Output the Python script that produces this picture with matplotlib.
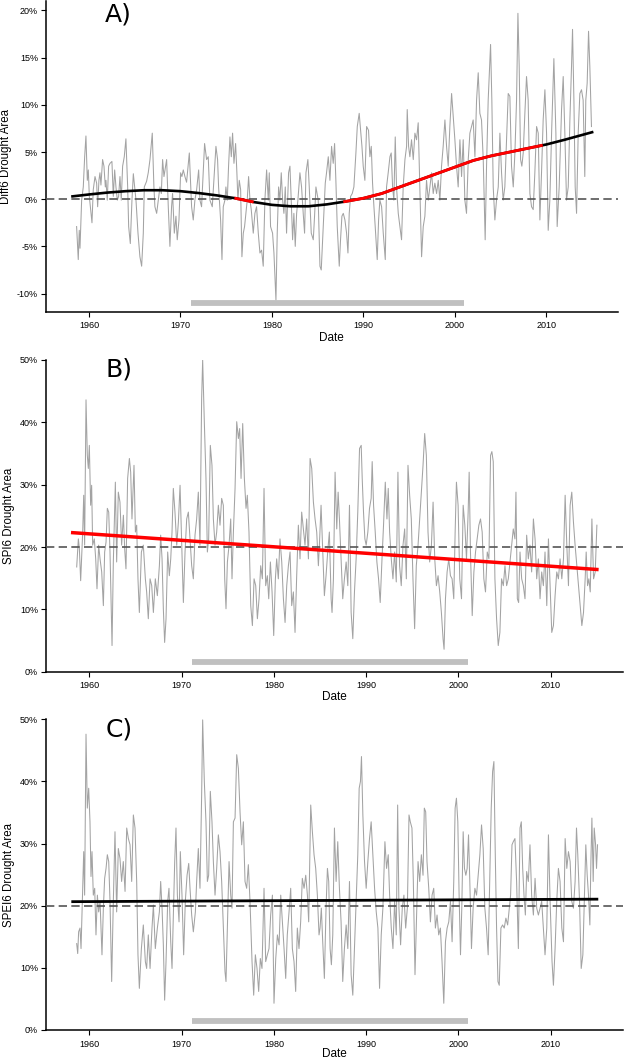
import numpy as np
import matplotlib
matplotlib.use("Agg")
import matplotlib.pyplot as plt

##############################################################################
# data (decimal year, % of area)

diff6_years = [
    1958.65, 1958.83, 1958.94, 1959.02, 1959.20, 1959.38, 1959.53, 1959.67, 1959.82, 1959.93,
    1960.04, 1960.22, 1960.33, 1960.47, 1960.66, 1960.84, 1960.95, 1961.09, 1961.20, 1961.31,
    1961.49, 1961.64, 1961.79, 1961.86, 1962.00, 1962.15, 1962.30, 1962.51, 1962.66, 1962.81,
    1962.95, 1963.10, 1963.24, 1963.39, 1963.53, 1963.68, 1963.86, 1964.04, 1964.23, 1964.34,
    1964.52, 1964.70, 1964.85, 1964.99, 1965.14, 1965.36, 1965.57, 1965.76, 1965.94, 1966.05,
    1966.30, 1966.48, 1966.67, 1966.92, 1967.10, 1967.21, 1967.40, 1967.58, 1967.76, 1967.91,
    1968.05, 1968.20, 1968.49, 1968.67, 1968.85, 1969.03, 1969.14, 1969.33, 1969.51, 1969.65,
    1969.84, 1970.02, 1970.16, 1970.31, 1970.49, 1970.67, 1970.97, 1971.22, 1971.40, 1971.58,
    1971.77, 1971.99, 1972.13, 1972.31, 1972.64, 1972.86, 1973.04, 1973.22, 1973.48, 1973.66,
    1973.88, 1974.06, 1974.17, 1974.39, 1974.54, 1974.68, 1974.86, 1974.97, 1975.12, 1975.26,
    1975.41, 1975.56, 1975.70, 1975.85, 1976.03, 1976.17, 1976.28, 1976.43, 1976.58, 1976.72,
    1976.87, 1977.01, 1977.16, 1977.30, 1977.45, 1977.60, 1977.74, 1977.96, 1978.14, 1978.32,
    1978.51, 1978.69, 1978.87, 1979.05, 1979.23, 1979.42, 1979.60, 1979.71, 1979.85, 1980.07,
    1980.22, 1980.44, 1980.58, 1980.73, 1980.87, 1981.02, 1981.17, 1981.31, 1981.46, 1981.60,
    1981.82, 1981.97, 1982.11, 1982.26, 1982.40, 1982.55, 1982.70, 1982.84, 1983.06, 1983.24,
    1983.42, 1983.57, 1983.72, 1983.93, 1984.08, 1984.30, 1984.52, 1984.66, 1984.81, 1985.06,
    1985.25, 1985.39, 1985.54, 1985.68, 1985.83, 1985.97, 1986.16, 1986.34, 1986.52, 1986.70,
    1986.85, 1986.99, 1987.14, 1987.36, 1987.50, 1987.65, 1987.80, 1987.98, 1988.16, 1988.31,
    1988.45, 1988.60, 1988.78, 1988.96, 1989.18, 1989.33, 1989.54, 1989.69, 1989.84, 1989.98,
    1990.16, 1990.35, 1990.56, 1990.71, 1990.86, 1991.00, 1991.15, 1991.29, 1991.51, 1991.66,
    1991.80, 1991.99, 1992.17, 1992.39, 1992.53, 1992.71, 1992.90, 1993.04, 1993.19, 1993.33,
    1993.48, 1993.62, 1993.81, 1993.99, 1994.17, 1994.35, 1994.54, 1994.72, 1994.79, 1994.94,
    1995.08, 1995.26, 1995.45, 1995.63, 1995.81, 1995.99, 1996.17, 1996.36, 1996.54, 1996.72,
    1996.90, 1997.09, 1997.27, 1997.45, 1997.63, 1997.81, 1998.00, 1998.18, 1998.36, 1998.54,
    1998.72, 1998.91, 1999.09, 1999.27, 1999.45, 1999.64, 1999.82, 2000.00, 2000.18, 2000.36,
    2000.55, 2000.73, 2000.91, 2001.09, 2001.27, 2001.46, 2001.64, 2001.82, 2002.00, 2002.19,
    2002.37, 2002.55, 2002.73, 2002.91, 2003.10, 2003.31, 2003.46, 2003.64, 2003.90, 2004.04,
    2004.19, 2004.37, 2004.55, 2004.74, 2004.92, 2005.10, 2005.28, 2005.46, 2005.65, 2005.83,
    2006.01, 2006.19, 2006.38, 2006.56, 2006.74, 2006.89, 2007.03, 2007.18, 2007.32, 2007.47,
    2007.65, 2007.83, 2008.01, 2008.20, 2008.38, 2008.56, 2008.74, 2008.93, 2009.11, 2009.29,
    2009.47, 2009.65, 2009.84, 2010.02, 2010.20, 2010.38, 2010.57, 2010.82, 2011.04, 2011.18,
    2011.40, 2011.66, 2011.84, 2012.02, 2012.20, 2012.39, 2012.57, 2012.75, 2012.86, 2013.01,
    2013.15, 2013.30, 2013.48, 2013.66, 2013.84, 2014.02, 2014.20, 2014.31, 2014.46, 2014.61,
    2014.75, 2014.93,
]
diff6_values = [
    -2.9, -6.4, -3.3, -5.2, -0.1, 1.3, 4.5, 6.7, 2.0, 3.1,
    0.3, -1.5, -2.5, 1.0, 2.4, 1.7, -0.8, 2.0, 2.8, 1.5,
    4.2, 3.5, 1.3, 2.0, -0.1, 3.5, 3.8, 4.0, 0.3, 3.1,
    1.3, -0.1, 0.3, 2.4, -0.1, 3.5, 4.5, 6.4, 1.3, -2.9,
    -4.7, -0.1, 2.7, 1.3, -0.1, -3.6, -6.1, -7.1, -3.6, 1.3,
    1.9, 2.8, 4.2, 7.0, 1.3, -0.8, -1.5, -0.1, 1.3, 0.6,
    4.2, 2.4, 4.2, -0.8, -5.0, -0.8, 0.6, -3.6, -1.8, -4.3,
    -2.2, 2.8, 2.4, 3.1, 2.4, 1.8, 4.9, -0.8, -2.2, -0.1,
    1.0, 3.1, -0.1, -0.8, 5.9, 4.2, 4.5, -0.1, -0.8, 2.0,
    5.6, 4.2, 1.3, -2.2, -6.4, -0.8, -0.1, 1.3, -0.1, 3.5,
    6.6, 4.5, 7.0, 3.8, 5.9, 2.8, -0.1, 2.0, 1.0, -6.1,
    -3.6, -2.9, -1.5, -0.1, 2.4, -0.1, -1.1, -3.6, -1.5, -0.8,
    -3.6, -5.7, -5.4, -7.1, -0.1, 3.1, -0.1, 2.8, -2.9, -3.6,
    -5.7, -10.7, -3.6, 1.3, -0.1, 2.8, -0.1, -1.5, 1.3, -3.6,
    2.8, 3.5, -0.1, -4.3, -1.5, -5.0, -1.5, -0.1, 2.8, 1.3,
    -1.5, -3.6, 2.8, 4.2, 1.3, -3.6, -4.3, -1.8, 1.3, -0.1,
    -7.1, -7.5, -4.3, -1.5, 1.7, 2.8, 4.5, 2.0, 5.6, 3.8,
    5.9, 2.0, -2.9, -7.1, -4.3, -1.8, -1.5, -2.2, -3.6, -5.7,
    -1.5, 0.3, 0.6, 1.3, 4.9, 7.7, 9.1, 7.3, 5.6, 3.5,
    2.0, 7.7, 7.3, 4.5, 5.6, 1.7, -0.8, -2.9, -6.4, -2.2,
    -0.1, -0.8, -3.6, -6.4, 1.3, 2.8, 4.5, 4.9, 1.3, -0.1,
    6.6, 1.3, -1.5, -2.9, -4.3, 1.3, 4.2, 5.6, 9.5, 5.6,
    4.5, 6.3, 4.2, 7.0, 6.3, 8.1, 1.3, -6.1, -2.9, -1.8,
    2.0, -0.1, 1.3, 2.8, 0.6, 1.7, 0.6, 2.0, -0.1, 3.5,
    5.6, 8.4, 5.6, 3.5, 7.7, 11.2, 8.8, 6.3, 3.5, 1.3,
    6.3, 2.4, 6.3, -0.1, -1.5, 4.2, 7.0, 7.7, 8.4, 4.5,
    10.5, 13.4, 9.1, 8.4, 4.2, -4.3, 3.5, 10.5, 16.4, 10.5,
    1.3, -2.2, -0.1, 1.3, 7.0, 2.8, -0.1, 1.3, 6.3, 11.2,
    10.9, 3.5, 1.3, 4.9, 10.5, 19.7, 14.1, 4.2, 3.5, 4.9,
    9.1, 13.0, 10.5, 0.6, -0.8, -1.1, 2.8, 7.7, 7.0, -2.2,
    2.8, 8.4, 11.6, 7.0, -3.3, -0.1, 7.0, 14.9, 7.0, -2.9,
    1.3, 9.5, 13.0, 7.0, -0.1, 1.3, 8.4, 14.1, 18.0, 10.5,
    1.3, -1.5, 7.0, 11.2, 11.6, 10.5, 2.4, 10.5, 12.3, 17.8,
    14.1, 7.7,
]

spi6_years = [
    1958.63, 1958.81, 1958.92, 1959.06, 1959.28, 1959.39, 1959.49, 1959.64, 1959.78, 1959.89,
    1960.00, 1960.14, 1960.25, 1960.36, 1960.54, 1960.69, 1960.83, 1961.01, 1961.16, 1961.34,
    1961.52, 1961.66, 1961.81, 1961.95, 1962.10, 1962.24, 1962.46, 1962.60, 1962.82, 1962.96,
    1963.14, 1963.32, 1963.50, 1963.69, 1963.83, 1963.97, 1964.15, 1964.34, 1964.48, 1964.62,
    1964.84, 1964.99, 1965.13, 1965.27, 1965.42, 1965.64, 1965.85, 1966.07, 1966.21, 1966.39,
    1966.58, 1966.76, 1966.94, 1967.15, 1967.37, 1967.59, 1967.73, 1967.88, 1968.02, 1968.16,
    1968.31, 1968.49, 1968.67, 1968.82, 1968.96, 1969.10, 1969.28, 1969.47, 1969.65, 1969.83,
    1970.01, 1970.19, 1970.37, 1970.55, 1970.73, 1970.91, 1971.09, 1971.27, 1971.45, 1971.63,
    1971.81, 1971.99, 1972.17, 1972.28, 1972.46, 1972.64, 1972.79, 1972.93, 1973.11, 1973.29,
    1973.44, 1973.62, 1973.80, 1973.98, 1974.16, 1974.34, 1974.52, 1974.67, 1974.81, 1974.96,
    1975.14, 1975.32, 1975.46, 1975.61, 1975.79, 1975.97, 1976.15, 1976.29, 1976.44, 1976.62,
    1976.80, 1976.98, 1977.12, 1977.30, 1977.49, 1977.67, 1977.85, 1978.03, 1978.21, 1978.39,
    1978.57, 1978.75, 1978.93, 1979.11, 1979.29, 1979.44, 1979.62, 1979.80, 1979.98, 1980.16,
    1980.30, 1980.48, 1980.66, 1980.85, 1981.03, 1981.21, 1981.39, 1981.57, 1981.75, 1981.93,
    1982.11, 1982.29, 1982.47, 1982.65, 1982.83, 1983.01, 1983.19, 1983.37, 1983.55, 1983.74,
    1983.92, 1984.10, 1984.28, 1984.46, 1984.64, 1984.82, 1984.93, 1985.11, 1985.29, 1985.47,
    1985.65, 1985.83, 1986.01, 1986.20, 1986.30, 1986.45, 1986.63, 1986.81, 1986.96, 1987.10,
    1987.28, 1987.46, 1987.64, 1987.83, 1988.01, 1988.19, 1988.37, 1988.55, 1988.73, 1988.91,
    1989.09, 1989.28, 1989.46, 1989.57, 1989.71, 1989.86, 1990.00, 1990.18, 1990.36, 1990.54,
    1990.65, 1990.80, 1990.98, 1991.16, 1991.34, 1991.52, 1991.70, 1991.88, 1992.07, 1992.25,
    1992.39, 1992.54, 1992.72, 1992.90, 1993.08, 1993.26, 1993.44, 1993.62, 1993.80, 1993.99,
    1994.17, 1994.35, 1994.53, 1994.71, 1994.89, 1995.07, 1995.25, 1995.43, 1995.62, 1995.80,
    1995.98, 1996.16, 1996.34, 1996.52, 1996.70, 1996.88, 1997.07, 1997.25, 1997.43, 1997.61,
    1997.79, 1997.97, 1998.15, 1998.33, 1998.44, 1998.59, 1998.77, 1998.95, 1999.13, 1999.31,
    1999.49, 1999.64, 1999.78, 1999.96, 2000.14, 2000.33, 2000.51, 2000.69, 2000.87, 2001.05,
    2001.16, 2001.30, 2001.49, 2001.67, 2001.85, 2002.03, 2002.21, 2002.39, 2002.57, 2002.75,
    2002.93, 2003.12, 2003.30, 2003.48, 2003.62, 2003.77, 2003.95, 2004.13, 2004.31, 2004.49,
    2004.67, 2004.86, 2005.04, 2005.22, 2005.40, 2005.58, 2005.76, 2005.94, 2006.12, 2006.23,
    2006.38, 2006.52, 2006.67, 2006.85, 2007.03, 2007.21, 2007.39, 2007.57, 2007.75, 2007.93,
    2008.12, 2008.30, 2008.48, 2008.66, 2008.84, 2009.02, 2009.20, 2009.38, 2009.57, 2009.75,
    2009.93, 2010.11, 2010.29, 2010.47, 2010.65, 2010.83, 2011.01, 2011.20, 2011.38, 2011.56,
    2011.74, 2011.92, 2012.10, 2012.28, 2012.46, 2012.64, 2012.83, 2013.01, 2013.19, 2013.37,
    2013.55, 2013.73, 2013.84, 2013.99, 2014.13, 2014.28, 2014.46, 2014.64, 2014.82, 2015.00,
]
spi6_values = [
    16.8, 21.3, 19.7, 14.6, 22.4, 28.3, 20.3, 43.6, 34.7, 32.6,
    36.3, 26.7, 29.9, 20.3, 21.3, 18.1, 13.3, 20.3, 18.1, 16.0,
    10.6, 19.2, 20.8, 26.2, 25.6, 19.2, 4.2, 17.6, 30.4, 17.6,
    28.8, 27.2, 20.3, 25.1, 19.7, 16.5, 31.0, 34.2, 32.0, 24.5,
    33.1, 22.4, 23.5, 14.9, 9.5, 19.2, 20.3, 14.9, 12.8, 8.5,
    14.9, 13.8, 9.5, 14.9, 12.2, 17.0, 21.9, 18.1, 10.1, 4.7,
    8.5, 19.2, 15.4, 18.1, 22.4, 29.4, 25.6, 20.3, 24.0, 29.9,
    20.3, 11.1, 19.2, 24.5, 25.6, 21.3, 17.0, 14.9, 21.9, 24.5,
    28.8, 20.3, 43.8, 50.0, 40.1, 31.0, 19.2, 21.3, 36.3, 33.1,
    24.5, 20.3, 22.4, 26.7, 23.5, 27.8, 26.7, 14.9, 10.1, 17.6,
    20.3, 24.5, 14.9, 22.4, 29.4, 40.1, 37.4, 39.0, 31.0, 39.8,
    31.0, 26.2, 28.3, 22.4, 10.6, 7.4, 14.9, 13.8, 8.5, 11.7,
    17.0, 14.9, 29.4, 13.8, 15.4, 11.7, 17.6, 12.8, 5.8, 14.9,
    18.1, 14.9, 21.3, 17.6, 11.7, 7.9, 13.8, 17.0, 19.2, 10.6,
    12.8, 6.3, 15.4, 23.5, 18.1, 25.6, 22.9, 20.3, 24.5, 18.1,
    34.2, 32.6, 27.2, 24.5, 22.4, 17.0, 20.3, 26.7, 19.2, 12.2,
    15.4, 19.2, 22.4, 11.7, 9.5, 14.9, 32.0, 22.9, 28.8, 24.5,
    18.1, 11.7, 14.9, 17.6, 13.8, 26.7, 9.5, 5.3, 12.8, 18.1,
    25.6, 35.8, 36.3, 31.0, 25.6, 21.3, 20.3, 22.4, 26.2, 27.8,
    33.7, 26.7, 22.4, 17.6, 14.9, 11.1, 17.6, 23.5, 30.4, 24.5,
    29.4, 22.4, 18.1, 14.9, 19.2, 14.4, 32.0, 17.0, 13.8, 20.3,
    22.9, 14.9, 33.1, 28.3, 24.5, 14.9, 6.9, 17.0, 20.3, 24.5,
    28.8, 33.1, 38.2, 34.7, 22.4, 17.6, 20.3, 27.2, 18.1, 13.8,
    15.4, 12.8, 9.5, 5.3, 3.6, 11.7, 16.0, 18.1, 15.4, 14.9,
    11.7, 22.4, 30.4, 26.7, 14.9, 11.7, 26.7, 23.5, 18.1, 25.6,
    32.0, 19.2, 9.0, 16.0, 19.2, 21.3, 23.5, 24.5, 22.4, 14.9,
    12.8, 19.2, 18.1, 34.7, 35.3, 33.7, 14.9, 8.5, 4.2, 6.3,
    14.9, 13.8, 17.0, 13.8, 14.9, 17.6, 20.3, 22.9, 21.3, 28.8,
    11.7, 11.1, 19.2, 14.9, 13.8, 11.7, 21.9, 18.1, 20.3, 16.0,
    24.5, 21.3, 14.9, 18.1, 11.7, 16.0, 13.8, 19.2, 10.6, 21.3,
    13.8, 6.3, 7.4, 12.2, 16.0, 14.9, 18.1, 14.9, 18.1, 28.3,
    20.3, 13.8, 26.7, 28.8, 24.0, 20.3, 17.0, 13.8, 10.6, 7.4,
    9.5, 14.9, 19.2, 13.8, 14.9, 12.8, 24.5, 14.9, 16.0, 23.5,
]

spei6_years = [
    1958.63, 1958.74, 1958.84, 1958.99, 1959.10, 1959.24, 1959.39, 1959.49, 1959.64, 1959.78,
    1959.93, 1960.07, 1960.18, 1960.29, 1960.43, 1960.58, 1960.72, 1960.87, 1961.01, 1961.16,
    1961.37, 1961.52, 1961.66, 1961.81, 1961.95, 1962.10, 1962.24, 1962.42, 1962.60, 1962.78,
    1962.96, 1963.14, 1963.32, 1963.50, 1963.68, 1963.87, 1964.05, 1964.23, 1964.41, 1964.59,
    1964.77, 1964.95, 1965.13, 1965.27, 1965.42, 1965.64, 1965.85, 1966.07, 1966.21, 1966.39,
    1966.58, 1966.79, 1966.94, 1967.15, 1967.37, 1967.59, 1967.73, 1967.88, 1968.02, 1968.16,
    1968.31, 1968.49, 1968.63, 1968.82, 1968.96, 1969.10, 1969.25, 1969.39, 1969.54, 1969.72,
    1969.86, 1970.04, 1970.22, 1970.40, 1970.59, 1970.77, 1970.91, 1971.09, 1971.27, 1971.49,
    1971.63, 1971.81, 1971.99, 1972.17, 1972.28, 1972.46, 1972.64, 1972.79, 1972.93, 1973.11,
    1973.29, 1973.44, 1973.62, 1973.80, 1973.98, 1974.16, 1974.34, 1974.52, 1974.70, 1974.81,
    1974.96, 1975.14, 1975.32, 1975.46, 1975.61, 1975.79, 1975.97, 1976.15, 1976.33, 1976.51,
    1976.69, 1976.87, 1977.05, 1977.23, 1977.41, 1977.63, 1977.81, 1977.99, 1978.17, 1978.35,
    1978.53, 1978.71, 1978.93, 1979.11, 1979.29, 1979.47, 1979.65, 1979.84, 1980.01, 1980.20,
    1980.38, 1980.56, 1980.74, 1980.92, 1981.10, 1981.28, 1981.45, 1981.64, 1981.82, 1982.00,
    1982.18, 1982.36, 1982.54, 1982.72, 1982.90, 1983.08, 1983.27, 1983.45, 1983.63, 1983.77,
    1983.99, 1984.17, 1984.35, 1984.53, 1984.71, 1984.89, 1985.00, 1985.14, 1985.29, 1985.47,
    1985.65, 1985.80, 1985.94, 1986.09, 1986.23, 1986.38, 1986.56, 1986.74, 1986.92, 1987.10,
    1987.28, 1987.46, 1987.64, 1987.83, 1988.01, 1988.19, 1988.37, 1988.55, 1988.73, 1988.91,
    1989.09, 1989.24, 1989.38, 1989.49, 1989.64, 1989.82, 1990.00, 1990.18, 1990.36, 1990.54,
    1990.72, 1990.91, 1991.09, 1991.27, 1991.45, 1991.63, 1991.81, 1992.03, 1992.21, 1992.39,
    1992.54, 1992.72, 1992.90, 1993.08, 1993.26, 1993.41, 1993.55, 1993.73, 1993.91, 1994.09,
    1994.28, 1994.46, 1994.64, 1994.78, 1994.96, 1995.11, 1995.29, 1995.43, 1995.62, 1995.80,
    1995.98, 1996.16, 1996.30, 1996.45, 1996.59, 1996.78, 1996.96, 1997.14, 1997.32, 1997.50,
    1997.68, 1997.86, 1998.04, 1998.22, 1998.41, 1998.59, 1998.77, 1998.95, 1999.13, 1999.31,
    1999.49, 1999.64, 1999.78, 1999.93, 2000.07, 2000.22, 2000.36, 2000.51, 2000.65, 2000.80,
    2000.94, 2001.09, 2001.23, 2001.41, 2001.59, 2001.78, 2001.96, 2002.14, 2002.32, 2002.50,
    2002.68, 2002.86, 2003.04, 2003.22, 2003.41, 2003.55, 2003.70, 2003.84, 2003.99, 2004.13,
    2004.28, 2004.42, 2004.60, 2004.78, 2004.96, 2005.14, 2005.33, 2005.51, 2005.65, 2005.80,
    2005.94, 2006.12, 2006.30, 2006.49, 2006.67, 2006.81, 2006.96, 2007.10, 2007.25, 2007.39,
    2007.57, 2007.75, 2007.93, 2008.12, 2008.30, 2008.48, 2008.66, 2008.84, 2009.02, 2009.20,
    2009.38, 2009.57, 2009.75, 2009.93, 2010.14, 2010.29, 2010.47, 2010.65, 2010.83, 2011.01,
    2011.20, 2011.38, 2011.56, 2011.74, 2011.92, 2012.10, 2012.28, 2012.46, 2012.64, 2012.79,
    2012.93, 2013.12, 2013.30, 2013.48, 2013.66, 2013.80, 2013.95, 2014.09, 2014.24, 2014.35,
    2014.46, 2014.60, 2014.71, 2014.86, 2014.96, 2015.07,
]
spei6_values = [
    13.9, 12.3, 15.8, 16.4, 13.1, 20.7, 28.7, 21.7, 47.6, 35.7,
    38.9, 33.5, 24.7, 28.7, 21.7, 22.8, 15.3, 21.7, 19.0, 20.7,
    12.1, 19.6, 24.4, 26.0, 28.2, 27.1, 20.7, 7.8, 20.7, 31.9,
    19.0, 29.2, 27.6, 23.9, 27.1, 22.3, 32.5, 30.8, 29.8, 23.9,
    34.6, 32.5, 23.9, 12.1, 6.7, 13.1, 16.9, 11.0, 9.9, 15.3,
    9.9, 16.4, 20.1, 13.1, 16.4, 19.0, 23.9, 19.6, 13.7, 4.8,
    11.0, 20.7, 22.8, 14.2, 9.9, 18.5, 27.1, 32.5, 21.7, 17.4,
    28.7, 21.7, 12.1, 20.7, 24.9, 26.8, 22.8, 18.5, 15.8, 19.0,
    23.9, 29.2, 22.8, 37.8, 49.9, 40.0, 33.5, 23.9, 24.9, 38.4,
    33.5, 27.1, 21.7, 26.0, 31.4, 28.7, 23.9, 16.4, 9.4, 7.8,
    16.4, 27.1, 21.7, 19.6, 33.5, 34.1, 44.3, 42.1, 35.1, 29.8,
    33.5, 23.9, 22.8, 26.6, 20.7, 11.0, 5.6, 12.1, 9.9, 6.2,
    11.5, 9.9, 22.8, 11.0, 12.1, 13.1, 18.5, 21.7, 4.3, 11.5,
    15.3, 13.7, 21.7, 17.4, 13.1, 8.3, 15.3, 19.0, 22.8, 13.1,
    11.0, 6.2, 16.4, 13.1, 17.4, 24.4, 22.8, 24.9, 21.7, 17.4,
    36.2, 31.9, 28.2, 26.0, 21.7, 15.3, 16.4, 19.6, 14.2, 8.3,
    19.6, 26.0, 23.9, 13.1, 10.5, 15.3, 32.5, 23.9, 30.3, 22.8,
    17.4, 7.8, 13.1, 16.9, 13.1, 23.9, 8.9, 5.6, 13.1, 20.7,
    28.2, 38.9, 40.0, 44.0, 34.6, 27.1, 22.8, 27.1, 30.8, 33.5,
    28.2, 22.8, 19.0, 16.4, 6.7, 15.3, 19.6, 30.3, 26.0, 28.2,
    21.7, 16.4, 13.1, 20.7, 15.3, 36.2, 19.6, 13.7, 19.6, 21.7,
    16.4, 19.6, 34.6, 33.5, 32.5, 23.9, 8.9, 16.4, 27.1, 23.9,
    28.2, 24.9, 35.7, 35.1, 27.1, 22.8, 17.4, 21.7, 22.8, 16.4,
    18.5, 15.3, 16.4, 11.0, 4.3, 14.2, 16.4, 17.4, 20.7, 14.2,
    23.9, 35.7, 37.3, 33.5, 21.7, 12.1, 19.6, 31.9, 26.0, 24.9,
    26.0, 31.4, 23.9, 13.1, 19.6, 22.8, 21.7, 24.9, 28.2, 33.0,
    29.2, 19.6, 16.4, 12.1, 26.0, 35.7, 41.6, 43.2, 28.2, 16.4,
    7.8, 7.2, 16.4, 16.9, 16.4, 18.0, 16.9, 19.6, 21.7, 29.8,
    30.3, 30.8, 23.9, 13.1, 32.5, 33.5, 26.0, 21.7, 18.5, 25.5,
    23.9, 29.8, 21.7, 18.5, 24.4, 19.6, 18.5, 19.6, 20.7, 16.4,
    12.1, 16.4, 31.4, 20.7, 11.0, 7.2, 13.1, 20.7, 26.0, 23.9,
    16.4, 14.2, 30.8, 26.0, 28.7, 27.1, 20.7, 19.6, 23.9, 32.5,
    28.2, 20.7, 9.9, 12.1, 21.7, 29.8, 24.9, 21.7, 16.9, 27.1,
    34.1, 23.9, 32.5, 29.8, 26.0, 29.8,
]

# fitted trends
diff6_trend_years = [1958.2, 1960, 1962, 1964, 1966, 1968, 1970, 1972, 1974, 1976,
                     1978, 1980, 1982, 1984, 1986, 1988, 1990, 1992, 1994, 1996,
                     1998, 2000, 2002, 2004, 2006, 2008, 2010, 2012, 2015]
diff6_trend_values = [0.3, 0.5, 0.7, 0.85, 0.95, 0.95, 0.85, 0.65, 0.4, 0.1,
                      -0.3, -0.6, -0.75, -0.75, -0.55, -0.25, 0.1, 0.6, 1.3, 2.0,
                      2.7, 3.4, 4.1, 4.6, 5.0, 5.4, 5.8, 6.3, 7.1]
diff6_signif = [(1975.9, 1978.0), (1987.8, 2009.6)]   # red parts of the trend

spi6_trend_years = [1958.2, 2015.0]
spi6_trend_values = [22.3, 16.4]
spei6_trend_years = [1958.2, 2015.0]
spei6_trend_values = [20.65, 21.05]

ref_period = (1971.1, 2001.05)
x_ticks = [1960, 1970, 1980, 1990, 2000, 2010]

##############################################################################

plt.rcParams['font.family'] = ['Liberation Sans', 'DejaVu Sans']

fig = plt.figure(figsize=(6.25, 10.59), dpi=100)


def setup_panel(rect, ylim, yticks, ylabel, ylabel_x, letter, letter_y, bar_y, date_y):
    ax = fig.add_axes(rect)
    ax.set_xlim(1955.27, 2017.83)
    ax.set_ylim(*ylim)
    for side in ['top', 'right']:
        ax.spines[side].set_visible(False)
    for side in ['left', 'bottom']:
        ax.spines[side].set_linewidth(1.1)
    ax.set_xticks(x_ticks)
    ax.set_yticks(yticks)
    ax.set_yticklabels([f'{t}%' for t in yticks])
    ax.tick_params(direction='out', length=3.5, width=0.8, labelsize=6.5, pad=2)
    ax.tick_params(axis='x', pad=3.5)
    ax.set_xlabel('Date', fontsize=8.5)
    ax.xaxis.set_label_coords(0.5, date_y)
    ax.set_ylabel(ylabel, fontsize=8.3)
    ax.yaxis.set_label_coords(ylabel_x, 0.5)
    ax.text(0.104, letter_y, letter, transform=ax.transAxes, fontsize=18,
            family='DejaVu Sans', ha='left', va='center')
    ax.axhline(20 if ylim[1] > 30 else 0, color='#555555', lw=1.2, dashes=(5, 2.6), zorder=3)
    ax.plot(ref_period, [bar_y, bar_y], color='#c0c0c0', lw=4.2,
            solid_capstyle='butt', zorder=2)
    return ax


# A) Diff6
axA = setup_panel([0.0731, 0.7057, 0.9157, 0.2933], (-11.92, 21.0),
                  [-10, -5, 0, 5, 10, 15, 20], 'Diff6 Drought Area', -0.058,
                  'A)', 0.958, -10.95, -0.064)
axA.plot(diff6_years, diff6_values, color='#a3a3a3', lw=0.75, zorder=1)
axA.plot(diff6_trend_years, diff6_trend_values, color='black', lw=1.9, zorder=4)
ty = np.array(diff6_trend_years)
tv = np.array(diff6_trend_values)
for start, end in diff6_signif:
    inside = (ty > start) & (ty < end)
    xs = np.concatenate([[start], ty[inside], [end]])
    ys = np.interp(xs, ty, tv)
    axA.plot(xs, ys, color='red', lw=2.1, zorder=5, solid_capstyle='butt')

# B) SPI6
axB = setup_panel([0.0731, 0.3657, 0.9237, 0.2944], (0, 50),
                  [0, 10, 20, 30, 40, 50], 'SPI6 Drought Area', -0.053,
                  'B)', 0.97, 1.5, -0.061)
axB.plot(spi6_years, spi6_values, color='#a3a3a3', lw=0.75, zorder=1)
axB.plot(spi6_trend_years, spi6_trend_values, color='red', lw=2.5, zorder=4)

# C) SPEI6
axC = setup_panel([0.0731, 0.0274, 0.9237, 0.2934], (0, 50),
                  [0, 10, 20, 30, 40, 50], 'SPEI6 Drought Area', -0.053,
                  'C)', 0.968, 1.45, -0.058)
axC.plot(spei6_years, spei6_values, color='#a3a3a3', lw=0.75, zorder=1)
axC.plot(spei6_trend_years, spei6_trend_values, color='black', lw=2.0, zorder=4)

fig.savefig('out.png', dpi=100)
